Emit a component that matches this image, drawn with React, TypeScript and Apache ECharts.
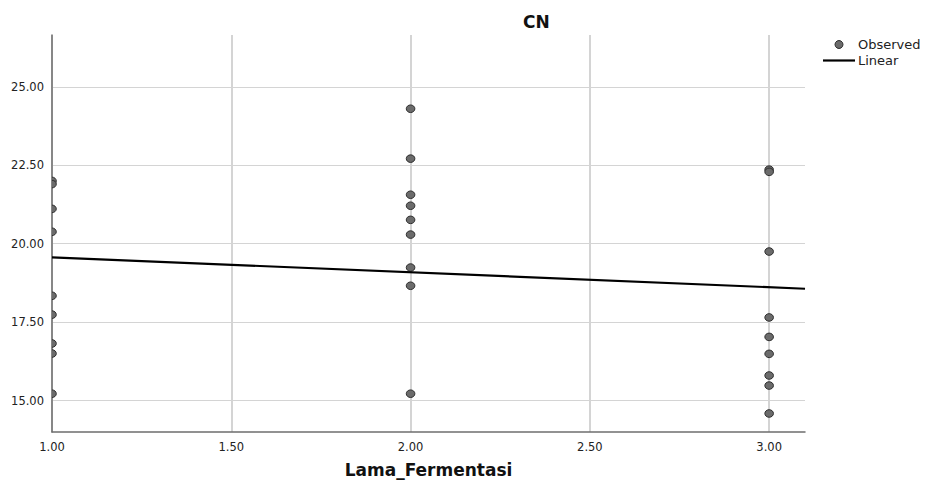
import React, { useEffect, useRef } from "react";
import * as echarts from "echarts";

const titleText = "CN";
const xAxisName = "Lama_Fermentasi";
const seriesNames = ["Observed", "Linear"];

const xTicks = [1, 1.5, 2, 2.5, 3];
const yTicks = [15, 17.5, 20, 22.5, 25];
const xRange = [1, 3.1];
const yRange = [14, 26.65];

// Observed CN values per Lama_Fermentasi level
const group1 = [22.0, 21.9, 21.11, 20.38, 18.34, 17.74, 16.82, 16.5, 15.22];
const group2 = [24.3, 22.71, 21.56, 21.21, 20.76, 20.29, 19.24, 18.66, 15.22];
const group3 = [22.36, 22.29, 19.75, 17.65, 17.03, 16.49, 15.8, 15.48, 14.59];
const levels = [1, 2, 3];

export default function App() {
  const ref = useRef<HTMLDivElement | null>(null);

  useEffect(() => {
    if (!ref.current) return;
    const chart = echarts.init(ref.current, null, { renderer: "svg" });

    const groups = [group1, group2, group3];
    const points: number[][] = [];
    groups.forEach((g, i) => g.forEach((v) => points.push([levels[i], v])));

    // least squares linear fit
    const n = points.length;
    const mx = points.reduce((s, p) => s + p[0], 0) / n;
    const my = points.reduce((s, p) => s + p[1], 0) / n;
    let sxy = 0;
    let sxx = 0;
    points.forEach((p) => {
      sxy += (p[0] - mx) * (p[1] - my);
      sxx += (p[0] - mx) * (p[0] - mx);
    });
    const slope = sxy / sxx;
    const icpt = my - slope * mx;
    const fitLine = xRange.map((x) => [x, icpt + slope * x]);

    const font = "DejaVu Sans";
    const dotFill = "#6b6b6b";
    const dotStroke = "#2e2e2e";

    chart.setOption({
      animation: false,
      backgroundColor: "#ffffff",
      title: {
        text: titleText,
        left: 523,
        top: 13,
        padding: 0,
        textStyle: { fontFamily: font, fontSize: 17, fontWeight: "bold", color: "#111" },
      },
      legend: {
        orient: "vertical",
        left: 823,
        top: 38,
        padding: 0,
        itemWidth: 32,
        itemHeight: 8,
        itemGap: 3,
        textStyle: { fontFamily: font, fontSize: 13, color: "#222", padding: [0, 0, 0, -2] },
        data: [
          {
            name: seriesNames[0],
            icon: "circle",
            itemStyle: { color: dotFill, borderColor: dotStroke, borderWidth: 1 },
          },
          {
            name: seriesNames[1],
            icon: "path://M0,0H32V2.2H0Z",
            itemStyle: { color: "#000", borderWidth: 0 },
          },
        ],
      },
      grid: {
        left: 52,
        right: 125,
        top: 35,
        bottom: 48,
        containLabel: false,
        outerBoundsMode: "none",
      },
      xAxis: {
        type: "value",
        min: xRange[0],
        max: xRange[1],
        name: xAxisName,
        nameLocation: "middle",
        nameGap: 29,
        nameTextStyle: { fontFamily: font, fontSize: 17, fontWeight: "bold", color: "#111" },
        axisLine: { show: true, onZero: false, lineStyle: { color: "#6e6e6e", width: 1.5 } },
        axisTick: { show: false, customValues: xTicks },
        axisLabel: {
          customValues: xTicks,
          formatter: (v: number) => v.toFixed(2),
          fontFamily: font,
          fontSize: 11.5,
          color: "#222",
          margin: 9,
        },
        splitLine: { show: true, lineStyle: { color: "#d4d4d4", width: 2 } },
      },
      yAxis: {
        type: "value",
        min: yRange[0],
        max: yRange[1],
        axisLine: { show: true, onZero: false, lineStyle: { color: "#6e6e6e", width: 1.5 } },
        axisTick: { show: false, customValues: yTicks },
        axisLabel: {
          customValues: yTicks,
          formatter: (v: number) => v.toFixed(2),
          fontFamily: font,
          fontSize: 11.5,
          color: "#222",
          margin: 8,
        },
        splitLine: { show: true, lineStyle: { color: "#d4d4d4", width: 1 } },
      },
      series: [
        {
          name: seriesNames[0],
          type: "custom",
          clip: true,
          itemStyle: { color: dotFill, borderColor: dotStroke, borderWidth: 1 },
          data: points,
          z: 3,
          renderItem: (params: any, api: any) => {
            const c = api.coord([api.value(0), api.value(1)]);
            return {
              type: "ellipse",
              shape: { cx: c[0], cy: c[1], rx: 4.3, ry: 3.8 },
              style: { fill: dotFill, stroke: dotStroke, lineWidth: 1 },
            };
          },
        },
        {
          name: seriesNames[1],
          type: "line",
          data: fitLine,
          showSymbol: false,
          symbol: "none",
          clip: true,
          z: 4,
          lineStyle: { color: "#000", width: 2.2 },
          itemStyle: { color: "#000" },
        },
      ],
    });

    return () => chart.dispose();
  }, []);

  return (
    <div
      ref={ref}
      style={{ position: "absolute", left: 0, top: 0, width: 930, height: 480 }}
    />
  );
}
